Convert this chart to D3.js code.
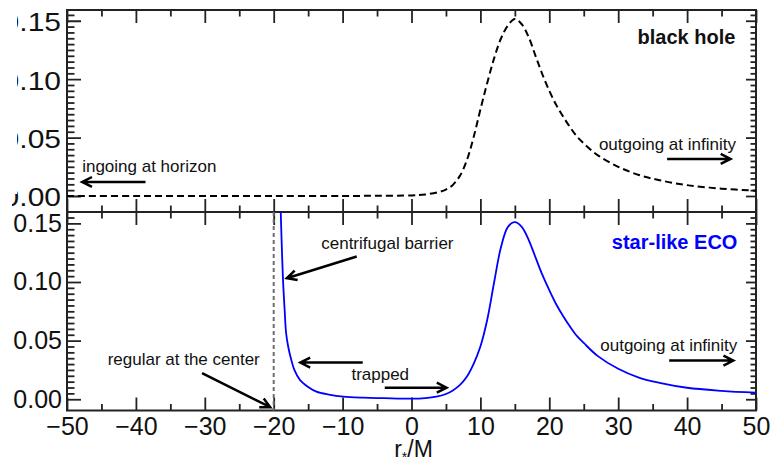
<!DOCTYPE html>
<html><head><meta charset="utf-8">
<script src="https://cdn.jsdelivr.net/npm/d3@7"></script>
<style>
body{margin:0;background:#fff}
svg{display:block}
text{font-family:"Liberation Sans",Arial,Helvetica,sans-serif}
</style>
</head><body><svg id="c" width="773" height="468"></svg>
<script>
// ---------- data ----------
const xTickValues = [-50,-40,-30,-20,-10,0,10,20,30,40,50];
const yTickValues = [0.00,0.05,0.10,0.15];
const xDomain = [-50, 50];

// black hole potential (top panel, dashed)
const bhR = [-50,-40,-30,-20,-10,-5,0,2,4,5,6,7,8,9,10,11,12,13,14,15,16,17,18,19,20,21,22,23,24,25,27,30,33,36,40,45,50];
const bhV = [0,0,0,0,0.0000,0.0002,0.0005,0.0013,0.0035,0.0055,0.0095,0.017,0.030,0.050,0.074,0.097,0.118,0.135,0.146,0.1515,0.147,0.136,0.120,0.104,0.090,0.078,0.068,0.059,0.051,0.045,0.035,0.025,0.018,0.0135,0.0093,0.0063,0.0045];

// star-like ECO potential (bottom panel, blue)
const ecoR = [-19.1,-19.0,-18.85,-18.65,-18.4,-18.2,-17.9,-17.45,-17,-16.2,-15,-13.8,-12,-9.9,-7,-4,0,2,3.6,5,6,7,8,9,10,11,12,13,14,15,16,17,18,19,20,21,22,23,24,25,27,30,33,36,40,45,50];
const ecoV = [0.20,0.165,0.135,0.102,0.075,0.0565,0.045,0.0336,0.025,0.0165,0.0105,0.0065,0.004,0.0022,0.0013,0.0009,0.0005,0.0010,0.0022,0.0045,0.0075,0.012,0.019,0.030,0.045,0.068,0.100,0.130,0.147,0.151,0.147,0.136,0.121,0.106,0.093,0.081,0.071,0.062,0.054,0.048,0.037,0.026,0.0185,0.014,0.0098,0.0072,0.0056];

const centerR = -20; // r* of the centre (dashed vertical line)

// ---------- layout ----------
const svg = d3.select("#c");
const L = 67, R = 756;
const x = d3.scaleLinear().domain(xDomain).range([L, R]);
const panels = [
  {top:10, bottom:212, y:d3.scaleLinear().domain([-0.0137,0.1592]).range([212,10]), labelsX:false, clipLabels:true},
  {top:212, bottom:410.5, y:d3.scaleLinear().domain([-0.0096,0.1597]).range([410.5,212]), labelsX:true, clipLabels:false}
];
const axisColor = "#222";
const minorX = d3.range(-45, 50, 10);
const minorY = d3.range(0, 0.16, 0.005).filter(v => Math.abs(Math.round(v*20) - v*20) > 1e-6);

const defs = svg.append("defs");
defs.append("clipPath").attr("id","lblclip").append("polygon")
  .attr("points","17,0 17,194 12,194 12,212 773,212 773,0");

function styleAxis(g){
  g.select(".domain").remove();
  g.selectAll("line").attr("stroke",axisColor).attr("stroke-width",1.8);
  g.selectAll("text").attr("fill","#111").attr("font-size",25)
   .attr("font-family",'"Liberation Sans",Arial,Helvetica,sans-serif');
}

panels.forEach((p,i) => {
  const g = svg.append("g");
  const clipId = "pc"+i;
  defs.append("clipPath").attr("id",clipId).append("rect")
    .attr("x",L).attr("y",p.top).attr("width",R-L).attr("height",p.bottom-p.top);

  const gb = g.append("g").attr("transform",`translate(0,${p.bottom})`)
    .call(d3.axisBottom(x).tickValues(xTickValues).tickSize(-13).tickPadding(7)
      .tickFormat(p.labelsX ? d3.format("d") : ""));
  styleAxis(gb);
  const gbm = g.append("g").attr("transform",`translate(0,${p.bottom})`)
    .call(d3.axisBottom(x).tickValues(minorX).tickSize(-6.5).tickFormat(""));
  styleAxis(gbm);
  const gt = g.append("g").attr("transform",`translate(0,${p.top})`)
    .call(d3.axisTop(x).tickValues(xTickValues).tickSize(-13).tickFormat(""));
  styleAxis(gt);
  const gtm = g.append("g").attr("transform",`translate(0,${p.top})`)
    .call(d3.axisTop(x).tickValues(minorX).tickSize(-6.5).tickFormat(""));
  styleAxis(gtm);
  const glWrap = g.append("g");
  if (p.clipLabels) glWrap.attr("clip-path","url(#lblclip)");
  const gl = glWrap.append("g").attr("transform",`translate(${L},0)`)
    .call(d3.axisLeft(p.y).tickValues(yTickValues).tickSize(-14).tickPadding(5).tickFormat(d3.format(".2f")));
  styleAxis(gl);
  if (p.clipLabels) gl.selectAll("text").attr("transform","scale(1.2,1)").attr("y",2);
  const glm = g.append("g").attr("transform",`translate(${L},0)`)
    .call(d3.axisLeft(p.y).tickValues(minorY).tickSize(-7.5).tickFormat(""));
  styleAxis(glm);
  const gr = g.append("g").attr("transform",`translate(${R},0)`)
    .call(d3.axisRight(p.y).tickValues(yTickValues).tickSize(-10).tickFormat(""));
  styleAxis(gr);
  const grm = g.append("g").attr("transform",`translate(${R},0)`)
    .call(d3.axisRight(p.y).tickValues(minorY).tickSize(-5.5).tickFormat(""));
  styleAxis(grm);

  g.append("rect").attr("x",L).attr("y",p.top).attr("width",R-L).attr("height",p.bottom-p.top)
    .attr("fill","none").attr("stroke",axisColor).attr("stroke-width",2);

  p.g = g; p.clip = `url(#${clipId})`;
});

// ---------- curves ----------
const pTop = panels[0], pBot = panels[1];
const lineTop = d3.line().x(d=>x(d[0])).y(d=>pTop.y(d[1])).curve(d3.curveCatmullRom.alpha(0.5));
const lineBot = d3.line().x(d=>x(d[0])).y(d=>pBot.y(d[1])).curve(d3.curveCatmullRom.alpha(0.5));

pTop.g.append("path").datum(d3.zip(bhR,bhV)).attr("d",lineTop)
  .attr("clip-path",pTop.clip).attr("fill","none").attr("stroke","#000")
  .attr("stroke-width",2).attr("stroke-dasharray","7,4");

pBot.g.append("line").attr("x1",x(centerR)).attr("x2",x(centerR))
  .attr("y1",pBot.top).attr("y2",pBot.bottom)
  .attr("stroke","#6e6e6e").attr("stroke-width",2).attr("stroke-dasharray","4,3");

pBot.g.append("path").datum(d3.zip(ecoR,ecoV)).attr("d",lineBot)
  .attr("clip-path",pBot.clip).attr("fill","none").attr("stroke","#0000ff")
  .attr("stroke-width",1.8);

// ---------- annotations ----------
function label(p, r, v, txt, opts={}){
  return p.g.append("text").attr("x",x(r)).attr("y",p.y(v)).attr("dy","0.35em")
    .attr("font-size",opts.size||17).attr("font-weight",opts.bold?"bold":"normal")
    .attr("fill",opts.color||"#111").attr("text-anchor",opts.anchor||"start").text(txt);
}
function arrow(p, r0, v0, r1, v1){
  const x0=x(r0), y0=p.y(v0), x1=x(r1), y1=p.y(v1);
  const a = Math.atan2(y1-y0, x1-x0), hl = 11, ha = 0.47;
  const path = d3.path();
  path.moveTo(x0,y0); path.lineTo(x1,y1);
  path.moveTo(x1-hl*Math.cos(a-ha), y1-hl*Math.sin(a-ha));
  path.lineTo(x1,y1);
  path.lineTo(x1-hl*Math.cos(a+ha), y1-hl*Math.sin(a+ha));
  p.g.append("path").attr("d",path.toString()).attr("fill","none")
    .attr("stroke","#000").attr("stroke-width",2.5).attr("stroke-linecap","butt");
}

label(pTop, 47.0, 0.1363, "black hole", {bold:true, size:20, anchor:"end"});
label(pTop, -47.8, 0.0257, "ingoing at horizon");
arrow(pTop, -38.6, 0.012, -47.8, 0.012);
label(pTop, 27.2, 0.0445, "outgoing at infinity");
arrow(pTop, 37.1, 0.0317, 46.3, 0.0317);

label(pBot, 47.3, 0.134, "star-like ECO", {bold:true, size:20, anchor:"end", color:"#0000ff"});
label(pBot, 27.4, 0.0465, "outgoing at infinity");
arrow(pBot, 37.4, 0.033, 46.7, 0.033);
label(pBot, -13.1, 0.1329, "centrifugal barrier");
arrow(pBot, -7.95, 0.1218, -18.1, 0.1032);
arrow(pBot, -7.08, 0.0313, -16.13, 0.0313);
label(pBot, -8.72, 0.0216, "trapped");
arrow(pBot, -3.88, 0.0099, 5.09, 0.0099);
label(pBot, -44.1, 0.0342, "regular at the center");
arrow(pBot, -30.4, 0.0222, -20.5, -0.0068);

// x-axis title
const xt = svg.append("text").attr("x",x(0)+2).attr("y",457).attr("text-anchor","middle")
  .attr("font-size",23).attr("fill","#111");
xt.append("tspan").text("r");
xt.append("tspan").attr("font-size",14).attr("dy",5).text("*");
xt.append("tspan").attr("dy",-5).text("/M");
</script>
</body></html>
